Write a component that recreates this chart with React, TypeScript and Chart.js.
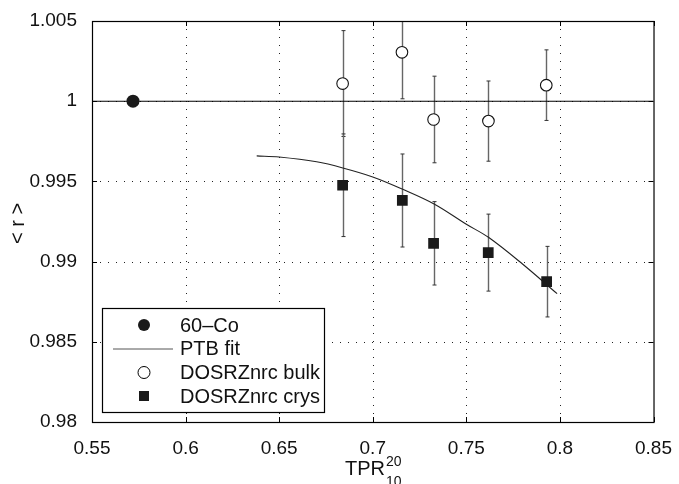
import React, { useEffect, useRef } from 'react';
import { Chart, registerables } from 'chart.js';
Chart.register(...registerables);

const xTicks = [0.55, 0.6, 0.65, 0.7, 0.75, 0.8, 0.85];
const xTickLabels = ['0.55', '0.6', '0.65', '0.7', '0.75', '0.8', '0.85'];
const yTicks = [0.98, 0.985, 0.99, 0.995, 1, 1.005];
const yTickLabels = ['0.98', '0.985', '0.99', '0.995', '1', '1.005'];

const coX = [0.5719];
const coY = [1.0];

const bulkX = [0.6839, 0.7156, 0.7325, 0.7618, 0.7927];
const bulkY = [1.0011, 1.00305, 0.99886, 0.99876, 1.001];
const bulkErr = [0.0033, 0.0029, 0.0027, 0.0025, 0.0022];

const crysX = [0.6839, 0.7158, 0.7325, 0.7617, 0.7929];
const crysY = [0.99476, 0.99381, 0.99114, 0.99056, 0.98875];
const crysErr = [0.0032, 0.0029, 0.0026, 0.0024, 0.0022];

const fitX = [0.638, 0.65, 0.67, 0.684, 0.7, 0.716, 0.733, 0.75, 0.762, 0.78, 0.7985];
const fitY = [0.99659, 0.99652, 0.99622, 0.99584, 0.99528, 0.99451, 0.99358, 0.99233, 0.9915, 0.98985, 0.988];

const refX = [0.55, 0.85];
const refY = [1.0, 1.0];

const legendLabels = ['60\u2013Co', 'PTB fit', 'DOSRZnrc bulk', 'DOSRZnrc crys'];

const FONT = '"Liberation Sans", Arial, Helvetica, sans-serif';
const FS = 19;
const LFS = 20;

const zip = (xs: number[], ys: number[]) => xs.map((x, i) => ({ x, y: ys[i] }));

const customPlugin = {
  id: 'matlabStyle',
  beforeDatasetsDraw(chart: any) {
    const { ctx, chartArea: a, scales } = chart;
    const xs = scales.x, ys = scales.y;
    ctx.save();
    ctx.strokeStyle = '#222';
    ctx.lineWidth = 1;
    ctx.setLineDash([1, 7]);
    xTicks.slice(1, -1).forEach((v) => {
      const px = Math.round(xs.getPixelForValue(v)) + 0.5;
      ctx.beginPath();
      ctx.moveTo(px, a.bottom);
      ctx.lineTo(px, a.top);
      ctx.stroke();
    });
    yTicks.slice(1, -1).forEach((v) => {
      const py = Math.round(ys.getPixelForValue(v)) + 0.5;
      ctx.beginPath();
      ctx.moveTo(a.left, py);
      ctx.lineTo(a.right, py);
      ctx.stroke();
    });
    ctx.setLineDash([]);
    ctx.beginPath();
    ctx.rect(a.left, a.top, a.right - a.left, a.bottom - a.top);
    ctx.clip();
    const drawErr = (X: number[], Y: number[], E: number[]) => {
      X.forEach((x, i) => {
        const px = Math.round(xs.getPixelForValue(x)) + 0.5;
        const top = ys.getPixelForValue(Y[i] + E[i]);
        const bot = ys.getPixelForValue(Y[i] - E[i]);
        ctx.strokeStyle = '#666';
        ctx.lineWidth = 1.4;
        ctx.beginPath();
        ctx.moveTo(px, top);
        ctx.lineTo(px, bot);
        ctx.stroke();
        ctx.strokeStyle = '#333';
        ctx.lineWidth = 1;
        ctx.beginPath();
        ctx.moveTo(px - 2, top);
        ctx.lineTo(px + 2, top);
        ctx.moveTo(px - 2, bot);
        ctx.lineTo(px + 2, bot);
        ctx.stroke();
      });
    };
    drawErr(bulkX, bulkY, bulkErr);
    drawErr(crysX, crysY, crysErr);
    ctx.restore();
  },
  afterDraw(chart: any) {
    const { ctx, chartArea: a, scales } = chart;
    const xs = scales.x, ys = scales.y;
    ctx.save();
    ctx.strokeStyle = '#000';
    ctx.lineWidth = 1.2;
    ctx.strokeRect(a.left + 0.5, a.top + 0.5, a.right - a.left, a.bottom - a.top);
    ctx.lineWidth = 1;
    const tl = 5;
    ctx.beginPath();
    xTicks.forEach((v) => {
      const px = Math.round(xs.getPixelForValue(v)) + 0.5;
      ctx.moveTo(px, a.bottom);
      ctx.lineTo(px, a.bottom - tl);
      ctx.moveTo(px, a.top);
      ctx.lineTo(px, a.top + tl);
    });
    yTicks.forEach((v) => {
      const py = Math.round(ys.getPixelForValue(v)) + 0.5;
      ctx.moveTo(a.left, py);
      ctx.lineTo(a.left + tl, py);
      ctx.moveTo(a.right, py);
      ctx.lineTo(a.right - tl, py);
    });
    ctx.stroke();

    // legend
    const lx = 102, ly = 308, lw = 222, lh = 104;
    ctx.fillStyle = '#fff';
    ctx.fillRect(lx, ly, lw, lh);
    ctx.strokeStyle = '#000';
    ctx.lineWidth = 1.2;
    ctx.strokeRect(lx + 0.5, ly + 0.5, lw, lh);
    const rows = [325, 348.5, 372.5, 396];
    const mx = 144;
    ctx.font = `${LFS}px ${FONT}`;
    ctx.textBaseline = 'middle';
    ctx.textAlign = 'left';
    rows.forEach((ry, i) => {
      if (i === 0) {
        ctx.fillStyle = '#1a1a1a';
        ctx.beginPath();
        ctx.arc(mx, ry, 6, 0, Math.PI * 2);
        ctx.fill();
      } else if (i === 1) {
        ctx.strokeStyle = '#555';
        ctx.lineWidth = 1;
        ctx.beginPath();
        ctx.moveTo(113, ry + 0.5);
        ctx.lineTo(173, ry + 0.5);
        ctx.stroke();
      } else if (i === 2) {
        ctx.fillStyle = '#fff';
        ctx.strokeStyle = '#000';
        ctx.lineWidth = 1;
        ctx.beginPath();
        ctx.arc(mx, ry, 6, 0, Math.PI * 2);
        ctx.fill();
        ctx.stroke();
      } else {
        ctx.fillStyle = '#1a1a1a';
        ctx.fillRect(mx - 5, ry - 5, 10, 10);
      }
      ctx.fillStyle = '#111';
      ctx.fillText(legendLabels[i], 180, ry + 1);
    });

    // x title
    const cx = (a.left + a.right) / 2;
    ctx.textBaseline = 'alphabetic';
    ctx.font = `${LFS}px ${FONT}`;
    const w1 = ctx.measureText('TPR').width;
    ctx.font = `14px ${FONT}`;
    const w2 = ctx.measureText('20').width;
    const x0 = cx - (w1 + w2) / 2;
    ctx.fillStyle = '#111';
    ctx.font = `${LFS}px ${FONT}`;
    ctx.fillText('TPR', x0, 475);
    ctx.font = `14px ${FONT}`;
    ctx.fillText('20', x0 + w1 + 1, 466);
    ctx.fillText('10', x0 + w1 + 1, 486);

    // y title
    ctx.save();
    ctx.translate(18, (a.top + a.bottom) / 2 + 2);
    ctx.rotate(-Math.PI / 2);
    ctx.font = `${LFS}px ${FONT}`;
    ctx.textAlign = 'center';
    ctx.textBaseline = 'middle';
    ctx.fillText('< r >', 0, 0);
    ctx.restore();

    ctx.restore();
  },
};

export default function App() {
  const ref = useRef<HTMLCanvasElement>(null);
  useEffect(() => {
    const canvas = ref.current;
    if (!canvas) return;
    const chart = new Chart(canvas, {
      type: 'scatter',
      data: {
        datasets: [
          {
            label: legendLabels[0],
            data: zip(coX, coY),
            pointStyle: 'circle',
            pointRadius: 6.5,
            backgroundColor: '#1a1a1a',
            borderColor: '#1a1a1a',
            borderWidth: 0,
            order: 0,
          },
          {
            label: legendLabels[2],
            data: zip(bulkX, bulkY),
            pointStyle: 'circle',
            pointRadius: 5.8,
            backgroundColor: '#fff',
            borderColor: '#111',
            borderWidth: 1.1,
            order: 0,
          },
          {
            label: legendLabels[3],
            data: zip(crysX, crysY),
            pointStyle: 'rect',
            pointRadius: 7.6,
            backgroundColor: '#1a1a1a',
            borderColor: '#1a1a1a',
            borderWidth: 0,
            order: 0,
          },
          {
            type: 'line',
            label: legendLabels[1],
            data: zip(fitX, fitY),
            borderColor: '#222',
            borderWidth: 1.1,
            pointRadius: 0,
            tension: 0.35,
            fill: false,
            order: 1,
          },
          {
            type: 'line',
            label: 'ref',
            data: zip(refX, refY),
            borderColor: '#000',
            borderWidth: 1.1,
            pointRadius: 0,
            fill: false,
            order: 2,
          },
        ] as any,
      },
      options: {
        animation: false,
        responsive: false,
        devicePixelRatio: 1,
        layout: { padding: { top: 21, right: 20, left: 0, bottom: 0 } },
        plugins: {
          legend: { display: false },
          tooltip: { enabled: false },
        },
        scales: {
          x: {
            type: 'linear',
            min: 0.55,
            max: 0.85,
            grid: { display: false },
            border: { display: false },
            afterBuildTicks: (s: any) => {
              s.ticks = xTicks.map((v) => ({ value: v }));
            },
            afterFit: (s: any) => {
              s.height = 62;
            },
            ticks: {
              autoSkip: false,
              maxRotation: 0,
              padding: 7,
              color: '#111',
              font: { family: FONT, size: FS },
              callback: (_v: any, i: number) => xTickLabels[i],
            },
          },
          y: {
            type: 'linear',
            min: 0.98,
            max: 1.005,
            grid: { display: false },
            border: { display: false },
            afterBuildTicks: (s: any) => {
              s.ticks = yTicks.map((v) => ({ value: v }));
            },
            afterFit: (s: any) => {
              s.width = 92;
            },
            ticks: {
              autoSkip: false,
              padding: 7,
              color: '#111',
              font: { family: FONT, size: FS },
              callback: (_v: any, i: number) => yTickLabels[i],
            },
          },
        },
      } as any,
      plugins: [customPlugin],
    });
    return () => chart.destroy();
  }, []);
  return (
    <div style={{ position: 'absolute', left: 0, top: 0, width: 679, height: 484, background: '#fff' }}>
      <canvas ref={ref} width={679} height={484} style={{ width: 679, height: 484, display: 'block' }} />
    </div>
  );
}
